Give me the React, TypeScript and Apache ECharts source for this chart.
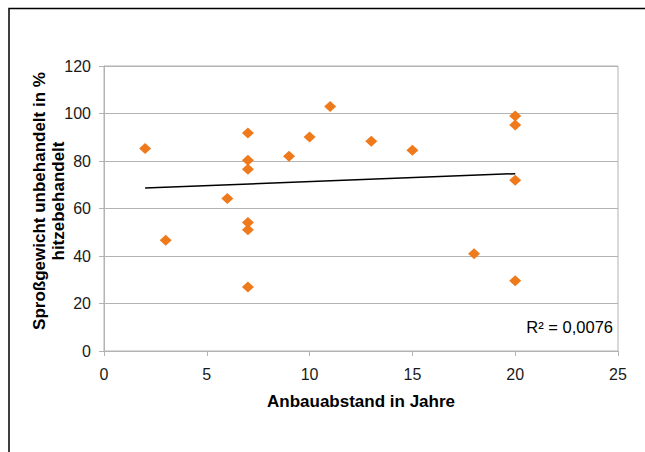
import React, { useEffect, useRef } from "react";
import * as echarts from "echarts";

const xValues = [2, 3, 6, 7, 7, 7, 7, 7, 7, 9, 10, 11, 13, 15, 18, 20, 20, 20, 20];
const yValues = [85.3, 46.6, 64.2, 91.8, 80.3, 76.5, 54.1, 51.1, 27.0, 82.0, 90.1, 103.0, 88.3, 84.5, 41.0, 98.9, 95.2, 71.9, 29.6];
const xTitle = "Anbauabstand in Jahre";
const yTitleLines = ["Sproßgewicht unbehandelt in %", "hitzebehandelt"];
const rSquaredLabel = "R² = 0,0076";

const FONT = "'Liberation Sans', Arial, Helvetica, sans-serif";

function trendLine(xs: number[], ys: number[]) {
  const n = xs.length;
  const mx = xs.reduce((a, b) => a + b, 0) / n;
  const my = ys.reduce((a, b) => a + b, 0) / n;
  let sxy = 0;
  let sxx = 0;
  for (let i = 0; i < n; i++) {
    sxy += (xs[i] - mx) * (ys[i] - my);
    sxx += (xs[i] - mx) * (xs[i] - mx);
  }
  const slope = sxy / sxx;
  const intercept = my - slope * mx;
  const x0 = Math.min(...xs);
  const x1 = Math.max(...xs);
  return [
    [x0, intercept + slope * x0],
    [x1, intercept + slope * x1],
  ];
}

export default function App() {
  const ref = useRef<HTMLDivElement>(null);
  useEffect(() => {
    document.body.style.margin = "0";
    if (!ref.current) return;
    const chart = echarts.init(ref.current, undefined, { renderer: "svg" });
    const gray = "#b3b3b3";
    chart.setOption({
      animation: false,
      backgroundColor: "#ffffff",
      grid: {
        left: 104,
        top: 66,
        right: 27,
        bottom: 101,
        show: true,
        borderColor: gray,
        borderWidth: 1,
        containLabel: false,
      },
      xAxis: {
        type: "value",
        min: 0,
        max: 25,
        interval: 5,
        axisLine: { show: true, lineStyle: { color: gray, width: 1 } },
        axisTick: { show: true, length: 5, lineStyle: { color: gray } },
        splitLine: { show: false },
        axisLabel: { color: "#1a1a1a", fontSize: 16, fontFamily: FONT, margin: 15 },
      },
      yAxis: {
        type: "value",
        min: 0,
        max: 120,
        interval: 20,
        axisLine: { show: true, lineStyle: { color: gray, width: 1 } },
        axisTick: { show: true, length: 5, lineStyle: { color: gray } },
        splitLine: { show: true, lineStyle: { color: gray, width: 1 } },
        axisLabel: { color: "#1a1a1a", fontSize: 16, fontFamily: FONT, margin: 13 },
      },
      series: [
        {
          type: "scatter",
          data: xValues.map((x, i) => [x, yValues[i]]),
          symbol: "diamond",
          symbolSize: [12, 11],
          itemStyle: { color: "#EE7A1C", opacity: 1 },
          z: 3,
        },
        {
          type: "line",
          data: trendLine(xValues, yValues),
          symbol: "none",
          lineStyle: { color: "#000000", width: 1.5 },
          z: 2,
        },
      ],
      graphic: [
        {
          type: "rect",
          shape: { x: 9, y: 8.5, width: 700, height: 500 },
          style: { fill: "none", stroke: "#000000", lineWidth: 1.5 },
          silent: true,
        },
        {
          type: "text",
          x: 361,
          y: 401,
          style: {
            text: xTitle,
            font: `bold 17px ${FONT}`,
            fill: "#000000",
            textAlign: "center",
            textVerticalAlign: "middle",
          },
        },
        {
          type: "text",
          x: 49,
          y: 201,
          rotation: Math.PI / 2,
          style: {
            text: yTitleLines.join("\n"),
            font: `bold 17px ${FONT}`,
            lineHeight: 19,
            fill: "#000000",
            textAlign: "center",
            textVerticalAlign: "middle",
          },
        },
        {
          type: "text",
          x: 613,
          y: 327,
          style: {
            text: rSquaredLabel,
            font: `16.5px ${FONT}`,
            fill: "#000000",
            textAlign: "right",
            textVerticalAlign: "middle",
          },
        },
      ],
    });
    return () => chart.dispose();
  }, []);
  return <div ref={ref} style={{ width: 645, height: 452 }} />;
}
